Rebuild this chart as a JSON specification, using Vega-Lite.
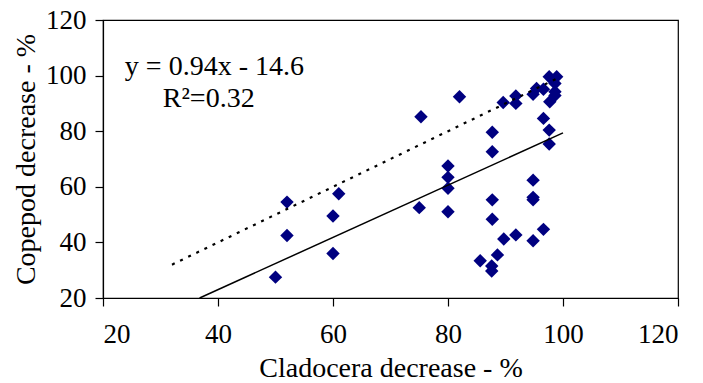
{
  "$schema": "https://vega.github.io/schema/vega-lite/v6.json",
  "width": 575,
  "height": 278,
  "autosize": "none",
  "padding": {"left": 103, "top": 20, "right": 25, "bottom": 85},
  "background": "white",
  "config": {
    "view": {"stroke": "black", "strokeWidth": 1.2},
    "font": "Liberation Serif",
    "axis": {
      "grid": false,
      "domainColor": "black",
      "tickColor": "black",
      "labelColor": "black",
      "titleColor": "black",
      "labelFont": "Liberation Serif",
      "titleFont": "Liberation Serif",
      "labelFontSize": 27,
      "titleFontSize": 28,
      "titleFontWeight": "normal",
      "tickSize": 8,
      "domainWidth": 1.2,
      "tickWidth": 1.2
    }
  },
  "layer": [
    {
      "data": {"values": [
        {"cla": 50, "cop": 27.5},
        {"cla": 52, "cop": 54.5},
        {"cla": 52, "cop": 42.5},
        {"cla": 60, "cop": 49.5},
        {"cla": 60, "cop": 36},
        {"cla": 61, "cop": 57.5},
        {"cla": 75, "cop": 52.5},
        {"cla": 75.3, "cop": 85.2},
        {"cla": 80, "cop": 67.5},
        {"cla": 80, "cop": 63.4},
        {"cla": 80, "cop": 59.5},
        {"cla": 80, "cop": 51},
        {"cla": 82, "cop": 92.4},
        {"cla": 85.6, "cop": 33.4},
        {"cla": 87.7, "cop": 79.6},
        {"cla": 87.7, "cop": 72.6},
        {"cla": 87.7, "cop": 55.3},
        {"cla": 87.7, "cop": 48.3},
        {"cla": 87.6, "cop": 31.5},
        {"cla": 87.6, "cop": 29.7},
        {"cla": 88.6, "cop": 35.5},
        {"cla": 89.7, "cop": 41.2},
        {"cla": 89.6, "cop": 90.3},
        {"cla": 91.8, "cop": 92.7},
        {"cla": 91.8, "cop": 90},
        {"cla": 91.8, "cop": 42.7},
        {"cla": 94.8, "cop": 93.3},
        {"cla": 95.4, "cop": 95.4},
        {"cla": 96.6, "cop": 95.1},
        {"cla": 94.8, "cop": 62.4},
        {"cla": 94.8, "cop": 56.2},
        {"cla": 94.8, "cop": 55.3},
        {"cla": 94.8, "cop": 40.6},
        {"cla": 96.6, "cop": 44.7},
        {"cla": 96.6, "cop": 84.6},
        {"cla": 97.6, "cop": 99.6},
        {"cla": 98.9, "cop": 99.6},
        {"cla": 98.6, "cop": 97.2},
        {"cla": 98.6, "cop": 94.2},
        {"cla": 98.6, "cop": 92.8},
        {"cla": 97.7, "cop": 90.6},
        {"cla": 97.6, "cop": 80.4},
        {"cla": 97.6, "cop": 75.4}
      ]},
      "mark": {"type": "point", "shape": "diamond", "filled": true, "color": "#000080", "opacity": 1, "size": 180},
      "encoding": {
        "x": {"field": "cla", "type": "quantitative", "scale": {"domain": [20, 120], "nice": false}, "axis": {"title": "Cladocera decrease - %", "values": [20, 40, 60, 80, 100, 120], "labelPadding": 15, "titlePadding": 7}},
        "y": {"field": "cop", "type": "quantitative", "scale": {"domain": [20, 120], "nice": false}, "axis": {"title": "Copepod decrease - %", "values": [20, 40, 60, 80, 100, 120], "labelPadding": 9, "titlePadding": 5}}
      }
    },
    {
      "data": {"values": [
        {"cla": 36.8, "cop": 20},
        {"cla": 100, "cop": 79.4}
      ]},
      "mark": {"type": "line", "color": "black", "strokeWidth": 1.5},
      "encoding": {
        "x": {"field": "cla", "type": "quantitative"},
        "y": {"field": "cop", "type": "quantitative"}
      }
    },
    {
      "data": {"values": [
        {"cla": 32, "cop": 32},
        {"cla": 99, "cop": 99}
      ]},
      "mark": {"type": "line", "color": "black", "strokeWidth": 2.2, "strokeDash": [3, 6]},
      "encoding": {
        "x": {"field": "cla", "type": "quantitative"},
        "y": {"field": "cop", "type": "quantitative"}
      }
    },
    {
      "data": {"values": [
        {"cla": 23.8, "cop": 100.2, "label": "y = 0.94x - 14.6"},
        {"cla": 30.4, "cop": 88.6, "label": "R²=0.32"}
      ]},
      "mark": {"type": "text", "align": "left", "baseline": "alphabetic", "font": "Liberation Serif", "fontSize": 28, "color": "black"},
      "encoding": {
        "x": {"field": "cla", "type": "quantitative"},
        "y": {"field": "cop", "type": "quantitative"},
        "text": {"field": "label"}
      }
    }
  ]
}
